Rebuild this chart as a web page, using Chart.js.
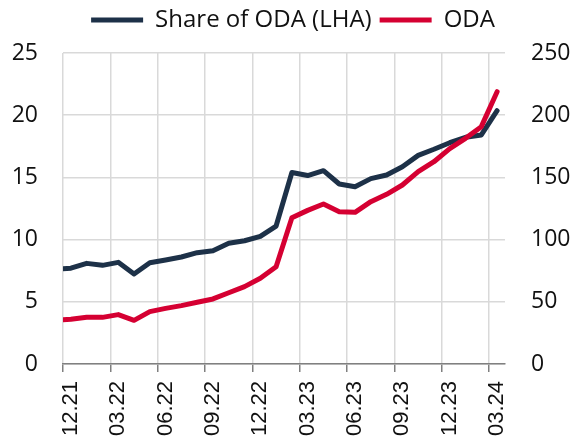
<!DOCTYPE html>
<html>
<head>
<meta charset="utf-8">
<script src="https://cdn.jsdelivr.net/npm/chart.js@4"></script>
<style>
  html, body { margin: 0; padding: 0; background: #ffffff; }
  #wrap { width: 574px; height: 446px; position: relative; }
</style>
</head>
<body>
<div id="wrap"><canvas id="c" width="574" height="446"></canvas></div>
<script>
// Months (MM.YY). The first entry lies just before the visible axis start.
const months = ['11.21','12.21','01.22','02.22','03.22','04.22','05.22','06.22','07.22','08.22','09.22','10.22','11.22','12.22',
                '01.23','02.23','03.23','04.23','05.23','06.23','07.23','08.23','09.23','10.23','11.23','12.23',
                '01.24','02.24','03.24'];
// Share of ODA (left axis, %)
const shareOfODA = [7.6, 7.7, 8.09, 7.93, 8.17, 7.23, 8.14, 8.36, 8.6, 8.95, 9.11, 9.7, 9.91, 10.26, 11.09,
                    15.4, 15.15, 15.54, 14.47, 14.25, 14.9, 15.19, 15.86, 16.77, 17.26, 17.79, 18.22, 18.41, 20.36];
// ODA (right axis)
const odaValues = [35.2, 35.9, 37.5, 37.5, 39.7, 35.1, 42.1, 44.7, 46.9, 49.6, 52.3, 57.3, 62.2, 68.9, 78.2,
                   117.5, 123.5, 128.6, 122.4, 121.9, 130.5, 136.4, 143.9, 154.6, 162.6, 173.1, 181.4, 190.8, 218.9];
const leftTicks = [0, 5, 10, 15, 20, 25];
const rightTicks = [0, 50, 100, 150, 200, 250];
const seriesNames = ['Share of ODA (LHA)', 'ODA'];
const firstVisibleMonth = '12.21';

const NAVY = '#1d3148';
const RED = '#d50032';
const GRID = '#d9d9d9';
const AXIS = '#808080';

function isQuarterLabel(lbl) {
  return ['03','06','09','12'].includes(String(lbl).slice(0, 2));
}

const legendTweak = {
  id: 'legendTweak',
  beforeLayout(chart) {
    const lg = chart.legend;
    if (lg && !lg._tweaked) {
      const f = lg.fit;
      lg.fit = function () { f.call(this); this.height += 11; };
      lg._tweaked = true;
    }
  },
  afterLayout(chart) {
    const lg = chart.legend;
    if (lg) { lg.left += 6; lg.right += 6; }
  }
};

new Chart(document.getElementById('c'), {
  type: 'line',
  data: {
    labels: months,
    datasets: [
      {
        label: seriesNames[0],
        data: shareOfODA,
        yAxisID: 'yL',
        borderColor: NAVY,
        backgroundColor: NAVY,
        borderWidth: 5,
        pointRadius: 0,
        tension: 0,
        borderCapStyle: 'round',
        borderJoinStyle: 'round',
        clip: 0,
        order: 1
      },
      {
        label: seriesNames[1],
        data: odaValues,
        yAxisID: 'yR',
        borderColor: RED,
        backgroundColor: RED,
        borderWidth: 5,
        pointRadius: 0,
        tension: 0,
        borderCapStyle: 'round',
        borderJoinStyle: 'round',
        clip: 0,
        order: 0
      }
    ]
  },
  options: {
    responsive: false,
    animation: false,
    devicePixelRatio: 1,
    layout: { padding: 0 },
    plugins: {
      tooltip: { enabled: false },
      legend: {
        position: 'top',
        align: 'center',
        labels: {
          usePointStyle: true,
          pointStyle: 'line',
          pointStyleWidth: 52,
          boxHeight: 24,
          padding: 8,
          color: '#111111',
          font: { family: '"Open Sans", "Noto Sans", sans-serif', size: 24 },
          sort: (a, b) => a.datasetIndex - b.datasetIndex
        }
      }
    },
    scales: {
      x: {
        type: 'category',
        min: firstVisibleMonth,
        offset: true,
        afterFit(scale) { scale.height = 82; },
        grid: {
          offset: true,
          drawOnChartArea: true,
          color: (ctx) => (ctx.tick && isQuarterLabel(months[ctx.tick.value])) ? GRID : 'rgba(0,0,0,0)',
          tickColor: (ctx) => (ctx.tick && isQuarterLabel(months[ctx.tick.value])) ? AXIS : 'rgba(0,0,0,0)',
          lineWidth: 1.5,
          tickLength: 8,
          drawTicks: true
        },
        border: { display: true, color: AXIS, width: 1.5 },
        ticks: {
          autoSkip: false,
          minRotation: 90,
          maxRotation: 90,
          padding: 9,
          color: '#111111',
          font: { family: '"Liberation Sans", Arial, sans-serif', size: 22 },
          callback: function (value) {
            const lbl = this.getLabelForValue(value);
            return isQuarterLabel(lbl) ? lbl : '';
          }
        }
      },
      yL: {
        type: 'linear',
        position: 'left',
        min: leftTicks[0],
        max: leftTicks[leftTicks.length - 1],
        afterFit(scale) { scale.width = 63; },
        afterBuildTicks(scale) { scale.ticks = leftTicks.map(v => ({ value: v })); },
        grid: { color: GRID, lineWidth: 1.5, drawTicks: false },
        border: { display: false },
        ticks: {
          padding: 25,
          color: '#111111',
          font: { family: '"Open Sans", "Noto Sans", sans-serif', size: 23 }
        }
      },
      yR: {
        type: 'linear',
        position: 'right',
        min: rightTicks[0],
        max: rightTicks[rightTicks.length - 1],
        afterFit(scale) { scale.width = 69; },
        afterBuildTicks(scale) { scale.ticks = rightTicks.map(v => ({ value: v })); },
        grid: { display: false, drawTicks: false },
        border: { display: false },
        ticks: {
          padding: 26,
          color: '#111111',
          font: { family: '"Open Sans", "Noto Sans", sans-serif', size: 23 }
        }
      }
    }
  },
  plugins: [legendTweak]
});
</script>
</body>
</html>
